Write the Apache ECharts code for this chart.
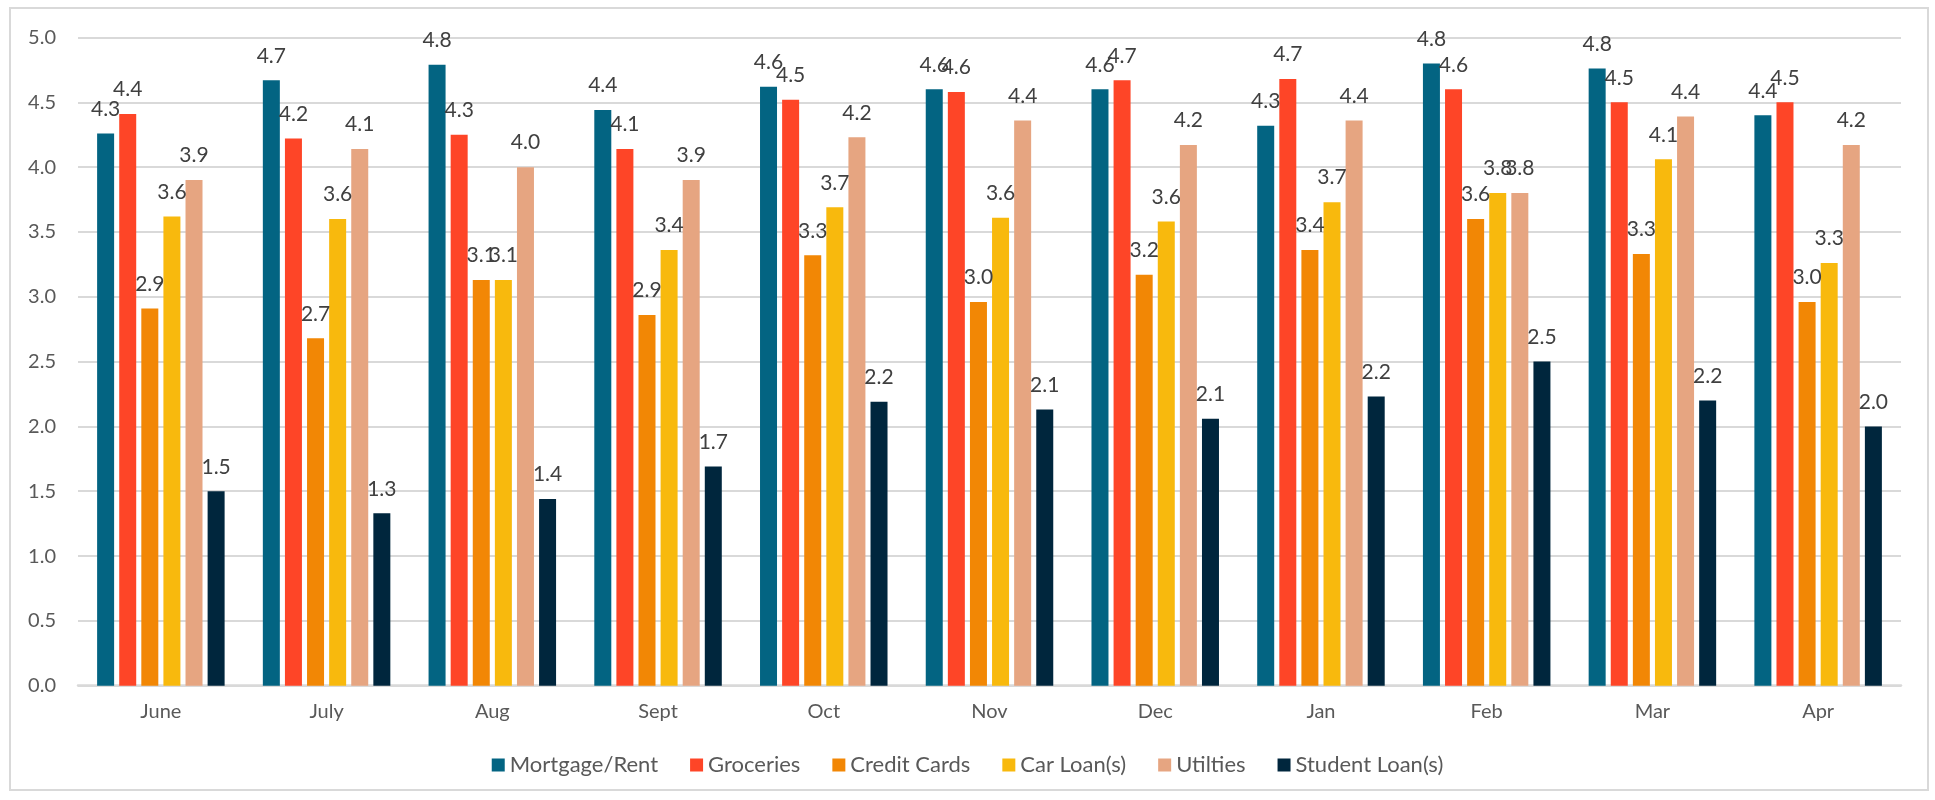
<!DOCTYPE html>
<html>
<head>
<meta charset="utf-8">
<script src="https://cdn.jsdelivr.net/npm/echarts@6/dist/echarts.min.js"></script>
<style>
html,body{margin:0;padding:0;background:#fff;}
#chart{width:1935px;height:800px;}
</style>
</head>
<body>
<div id="chart"></div>
<script>
const categories = ['June','July','Aug','Sept','Oct','Nov','Dec','Jan','Feb','Mar','Apr'];
const mortgageRent = [4.26,4.67,4.79,4.44,4.62,4.60,4.60,4.32,4.80,4.76,4.40];
const groceries    = [4.41,4.22,4.25,4.14,4.52,4.58,4.67,4.68,4.60,4.50,4.50];
const creditCards  = [2.91,2.68,3.13,2.86,3.32,2.96,3.17,3.36,3.60,3.33,2.96];
const carLoans     = [3.62,3.60,3.13,3.36,3.69,3.61,3.58,3.73,3.80,4.06,3.26];
const utilities    = [3.90,4.14,4.00,3.90,4.23,4.36,4.17,4.36,3.80,4.39,4.17];
const studentLoans = [1.50,1.33,1.44,1.69,2.19,2.13,2.06,2.23,2.50,2.20,2.00];

const seriesNames = ['Mortgage/Rent','Groceries','Credit Cards','Car Loan(s)','Utilties','Student Loan(s)'];
const seriesData = [mortgageRent, groceries, creditCards, carLoans, utilities, studentLoans];
const colors = ['#036482','#FE4527','#F28705','#F8B90D','#E6A581','#00263D'];

const FONT = 'Lato';
const chart = echarts.init(document.getElementById('chart'), null, {renderer:'canvas'});
chart.setOption({
  animation: false,
  color: colors,
  textStyle: {fontFamily: FONT},
  graphic: [{
    type: 'rect', silent: true, z: -10,
    shape: {x: 10, y: 8, width: 1918, height: 782},
    style: {fill: 'none', stroke: '#D9D9D9', lineWidth: 2}
  }],
  grid: {left: 78, right: 34, top: 37.5, bottom: 114.3, containLabel: false},
  legend: {
    data: seriesNames,
    bottom: 19,
    left: 'center',
    icon: 'rect',
    itemWidth: 13,
    itemHeight: 13,
    itemGap: 32,
    textStyle: {fontFamily: FONT, fontSize: 22, color: '#595959'}
  },
  xAxis: {
    type: 'category',
    data: categories,
    axisLine: {lineStyle: {color: '#D9D9D9', width: 2.5}},
    axisTick: {show: false},
    axisLabel: {fontFamily: FONT, fontSize: 20, color: '#595959', margin: 16}
  },
  yAxis: {
    type: 'value',
    min: 0, max: 5, interval: 0.5,
    axisLine: {show: false},
    axisTick: {show: false},
    splitLine: {lineStyle: {color: '#D9D9D9', width: 2}},
    axisLabel: {fontFamily: FONT, fontSize: 20, color: '#595959', margin: 22,
      formatter: v => v.toFixed(1)}
  },
  series: seriesNames.map((name, i) => ({
    name: name,
    type: 'bar',
    data: seriesData[i],
    barWidth: 17,
    barGap: '30%',
    itemStyle: {color: colors[i]},
    label: {
      show: true,
      position: 'top',
      distance: 14,
      fontFamily: FONT,
      fontSize: 21,
      color: '#404040',
      formatter: p => p.value.toFixed(1)
    }
  }))
});
</script>
</body>
</html>
